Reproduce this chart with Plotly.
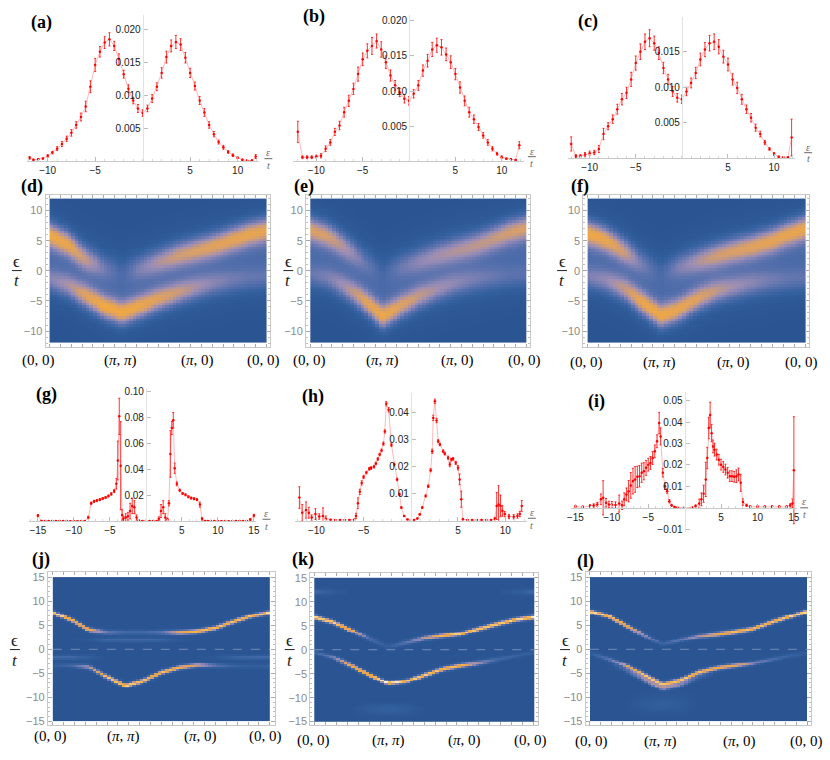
import numpy as np
import plotly.graph_objects as go

W, H = 830, 760

# ---------------------------------------------------------------- top row (a)-(c)
EPS_A = np.r_[-11.9, np.arange(-11.5, 11.51, 0.5), 11.9]
DOS_A = [0.0005, 0.0002, 0.0003, 0.0004, 0.0008, 0.0013, 0.0019, 0.0026, 0.0034, 0.0043,
         0.0055, 0.0067, 0.0083, 0.0113, 0.0146, 0.0166, 0.0180, 0.0185, 0.0175, 0.0155,
         0.0132, 0.0110, 0.0092, 0.0080, 0.0073, 0.0080, 0.0095, 0.0113, 0.0134, 0.0158,
         0.0175, 0.0181, 0.0177, 0.0157, 0.0134, 0.0114, 0.0092, 0.0074, 0.0055, 0.0041,
         0.0029, 0.0021, 0.0014, 0.0009, 0.0005, 0.0002, 0.0001, 0.0001, 0.0007]
ERR_A = [0.0002, 0.0001, 0.0001, 0.0001, 0.0002, 0.0002, 0.0003, 0.0004, 0.0004, 0.0005,
         0.0005, 0.0006, 0.0008, 0.0009, 0.0010, 0.0008, 0.0009, 0.0010, 0.0007, 0.0008,
         0.0006, 0.0006, 0.0005, 0.0006, 0.0005, 0.0005, 0.0006, 0.0006, 0.0008, 0.0009,
         0.0009, 0.0010, 0.0009, 0.0008, 0.0007, 0.0006, 0.0006, 0.0006, 0.0005, 0.0004,
         0.0003, 0.0003, 0.0002, 0.0002, 0.0001, 0.0001, 0.0001, 0.0001, 0.0003]

EPS_BC = np.r_[np.arange(-12.0, 11.51, 0.5), 11.9]
DOS_B = [0.0042, 0.0006, 0.0006, 0.0006, 0.0007, 0.0008, 0.0018, 0.0027, 0.0042, 0.0051,
         0.0070, 0.0086, 0.0103, 0.0124, 0.0145, 0.0157, 0.0164, 0.0171, 0.0159, 0.0141,
         0.0122, 0.0108, 0.0098, 0.0089, 0.0086, 0.0096, 0.0108, 0.0129, 0.0143, 0.0159,
         0.0165, 0.0162, 0.0152, 0.0141, 0.0124, 0.0105, 0.0086, 0.0070, 0.0060, 0.0049,
         0.0037, 0.0027, 0.0018, 0.0011, 0.0006, 0.0004, 0.0003, 0.0002, 0.0023]
ERR_B = [0.0015, 0.0002, 0.0002, 0.0002, 0.0002, 0.0003, 0.0004, 0.0004, 0.0005, 0.0006,
         0.0007, 0.0008, 0.0008, 0.0010, 0.0009, 0.0010, 0.0012, 0.0010, 0.0011, 0.0009,
         0.0008, 0.0007, 0.0006, 0.0006, 0.0006, 0.0006, 0.0007, 0.0008, 0.0009, 0.0010,
         0.0010, 0.0011, 0.0009, 0.0009, 0.0008, 0.0008, 0.0007, 0.0007, 0.0006, 0.0005,
         0.0004, 0.0004, 0.0003, 0.0002, 0.0002, 0.0001, 0.0001, 0.0001, 0.0005]
DOS_C = [0.0020, 0.0003, 0.0003, 0.0005, 0.0007, 0.0008, 0.0013, 0.0034, 0.0045, 0.0055,
         0.0069, 0.0083, 0.0092, 0.0111, 0.0134, 0.0150, 0.0164, 0.0169, 0.0162, 0.0148,
         0.0127, 0.0111, 0.0094, 0.0085, 0.0083, 0.0094, 0.0106, 0.0120, 0.0139, 0.0153,
         0.0162, 0.0164, 0.0157, 0.0143, 0.0132, 0.0111, 0.0099, 0.0083, 0.0069, 0.0057,
         0.0043, 0.0034, 0.0022, 0.0013, 0.0006, 0.0002, 0.0001, 0.0001, 0.0029]
ERR_C = [0.0010, 0.0002, 0.0002, 0.0003, 0.0003, 0.0003, 0.0005, 0.0008, 0.0005, 0.0006,
         0.0007, 0.0008, 0.0008, 0.0010, 0.0010, 0.0011, 0.0011, 0.0012, 0.0010, 0.0009,
         0.0008, 0.0007, 0.0007, 0.0006, 0.0006, 0.0006, 0.0007, 0.0008, 0.0009, 0.0010,
         0.0011, 0.0011, 0.0010, 0.0009, 0.0009, 0.0008, 0.0008, 0.0007, 0.0006, 0.0006,
         0.0005, 0.0004, 0.0003, 0.0002, 0.0002, 0.0001, 0.0001, 0.0001, 0.0026]

# ---------------------------------------------------------------- third row (g)-(i)
EPS_G = [-15, -14.5, -14, -13.5, -13, -12.5, -12, -11.5, -11, -10.5,
         -10, -9.5, -9, -8.5, -8, -7.6, -7.2, -6.8, -6.4, -6.0,
         -5.6, -5.2, -4.8, -4.4, -4.1, -3.9, -3.7, -3.5, -3.3, -3.1,
         -2.8, -2.5, -2.2, -1.9, -1.6, -1.3, -1.0, -0.5, 0, 0.5,
         1.0, 1.5, 1.8, 2.1, 2.4, 2.7, 3.0, 3.2, 3.4, 3.6,
         3.8, 4.0, 4.3, 4.7, 5.1, 5.5, 5.9, 6.3, 6.7, 7.1,
         7.5, 7.8, 8.2, 8.6, 9, 9.5, 10, 10.5, 11, 11.5,
         12, 12.5, 13, 13.5, 14, 14.5, 15]
DOS_G = [0.0045, 0.0004, 0.0003, 0.0003, 0.0003, 0.0003, 0.0003, 0.0003, 0.0003, 0.0002,
         0.0002, 0.0002, 0.0002, 0.0003, 0.0030, 0.0140, 0.0155, 0.0162, 0.0168, 0.0176,
         0.0185, 0.0196, 0.0212, 0.0235, 0.0290, 0.0470, 0.0810, 0.0430, 0.0050, 0.0020,
         0.0030, 0.0040, 0.0080, 0.0120, 0.0110, 0.0030, 0.0008, 0.0004, 0.0003, 0.0003,
         0.0003, 0.0004, 0.0020, 0.0080, 0.0110, 0.0030, 0.0015, 0.0140, 0.0520, 0.0720,
         0.0780, 0.0410, 0.0290, 0.0240, 0.0215, 0.0205, 0.0190, 0.0180, 0.0175, 0.0168,
         0.0130, 0.0020, 0.0004, 0.0003, 0.0003, 0.0003, 0.0002, 0.0002, 0.0002, 0.0002,
         0.0002, 0.0003, 0.0003, 0.0003, 0.0004, 0.0015, 0.0045]
ERR_G = [0.0008, 0.0003, 0.0003, 0.0003, 0.0003, 0.0003, 0.0003, 0.0003, 0.0003, 0.0003,
         0.0003, 0.0003, 0.0003, 0.0003, 0.0010, 0.0010, 0.0008, 0.0008, 0.0008, 0.0008,
         0.0008, 0.0008, 0.0010, 0.0012, 0.0040, 0.0150, 0.0140, 0.0340, 0.0040, 0.0020,
         0.0030, 0.0030, 0.0060, 0.0060, 0.0050, 0.0020, 0.0005, 0.0003, 0.0003, 0.0003,
         0.0003, 0.0003, 0.0015, 0.0050, 0.0050, 0.0030, 0.0010, 0.0020, 0.0180, 0.0050,
         0.0060, 0.0040, 0.0015, 0.0010, 0.0008, 0.0008, 0.0008, 0.0008, 0.0008, 0.0008,
         0.0020, 0.0010, 0.0003, 0.0003, 0.0003, 0.0003, 0.0003, 0.0003, 0.0003, 0.0003,
         0.0003, 0.0003, 0.0003, 0.0003, 0.0003, 0.0008, 0.0010]

EPS_H = [-11.8, -11.5, -11.1, -10.8, -10.5, -10.1, -9.7, -9.3, -9.0, -8.5,
         -8.0, -7.5, -7.0, -6.5, -6.0, -5.8, -5.6, -5.4, -5.2, -5.0,
         -4.7, -4.4, -4.2, -3.9, -3.7, -3.5, -3.3, -3.1, -2.9, -2.75,
         -2.6, -2.35, -2.05, -1.75, -1.45, -1.2, -1.0, -0.7, -0.35, 0,
         0.35, 0.7, 0.95, 1.22, 1.57, 1.85, 2.1, 2.27, 2.38, 2.55,
         2.73, 2.9, 3.08, 3.43, 3.6, 3.95, 4.13, 4.3, 4.48, 4.76,
         5.0, 5.17, 5.35, 5.52, 6.0, 6.5, 7.0, 7.5, 8.0, 8.5,
         8.9, 9.1, 9.3, 9.5, 9.7, 9.95, 10.4, 10.9, 11.3, 11.55,
         11.75]
DOS_H = [0.0086, 0.0030, 0.0040, 0.0030, 0.0012, 0.0025, 0.0016, 0.0018, 0.0008, 0.0004,
         0.0003, 0.0003, 0.0003, 0.0003, 0.0004, 0.0018, 0.0065, 0.0107, 0.0140, 0.0162,
         0.0178, 0.0192, 0.0195, 0.0200, 0.0212, 0.0228, 0.0245, 0.0260, 0.0285, 0.0330,
         0.0432, 0.0410, 0.0280, 0.0208, 0.0153, 0.0098, 0.0049, 0.0018, 0.0005, 0.0002,
         0.0003, 0.0009, 0.0024, 0.0049, 0.0092, 0.0128, 0.0187, 0.0257, 0.0380, 0.0441,
         0.0370, 0.0294, 0.0282, 0.0257, 0.0248, 0.0233, 0.0208, 0.0226, 0.0229, 0.0214,
         0.0196, 0.0153, 0.0080, 0.0006, 0.0003, 0.0003, 0.0003, 0.0003, 0.0003, 0.0003,
         0.0008, 0.0055, 0.0060, 0.0055, 0.0037, 0.0025, 0.0016, 0.0015, 0.0018, 0.0025,
         0.0055]
ERR_H = [0.0040, 0.0030, 0.0030, 0.0020, 0.0010, 0.0020, 0.0010, 0.0030, 0.0010, 0.0002,
         0.0002, 0.0002, 0.0002, 0.0002, 0.0002, 0.0010, 0.0020, 0.0010, 0.0008, 0.0006,
         0.0005, 0.0005, 0.0005, 0.0005, 0.0005, 0.0005, 0.0005, 0.0005, 0.0006, 0.0006,
         0.0008, 0.0008, 0.0006, 0.0005, 0.0005, 0.0004, 0.0003, 0.0002, 0.0002, 0.0002,
         0.0002, 0.0002, 0.0003, 0.0003, 0.0004, 0.0005, 0.0006, 0.0008, 0.0010, 0.0008,
         0.0008, 0.0006, 0.0005, 0.0005, 0.0005, 0.0006, 0.0008, 0.0005, 0.0005, 0.0006,
         0.0008, 0.0020, 0.0030, 0.0003, 0.0002, 0.0002, 0.0002, 0.0002, 0.0002, 0.0002,
         0.0005, 0.0050, 0.0070, 0.0040, 0.0020, 0.0010, 0.0008, 0.0008, 0.0008, 0.0010,
         0.0020]

EPS_I = [-15, -14, -13, -12.5, -12, -11.5, -11.2, -10.8, -10.4, -10.0,
         -9.5, -9.0, -8.6, -8.3, -8.0, -7.7, -7.4, -7.1, -6.8, -6.5,
         -6.2, -5.9, -5.6, -5.3, -5.0, -4.7, -4.4, -4.1, -3.8, -3.5,
         -3.3, -3.0, -2.7, -2.4, -2.1, -1.8, -1.4, -1.0, 0, 1.0,
         1.5, 2.0, 2.3, 2.6, 2.9, 3.1, 3.3, 3.5, 3.7, 3.9,
         4.1, 4.4, 4.7, 5.0, 5.3, 5.6, 5.9, 6.2, 6.5, 6.8,
         7.1, 7.4, 7.7, 8.0, 8.5, 9, 10, 11, 12, 13,
         14, 14.5, 14.8, 15]
DOS_I = [0.0005, 0.0003, 0.0008, 0.0010, 0.0015, 0.0039, 0.0046, 0.0023, 0.0015, 0.0014,
         0.0012, 0.0019, 0.0011, 0.0039, 0.0062, 0.0077, 0.0104, 0.0124, 0.0132, 0.0144,
         0.0147, 0.0163, 0.0170, 0.0186, 0.0201, 0.0209, 0.0232, 0.0263, 0.0310, 0.0395,
         0.0333, 0.0163, 0.0100, 0.0077, 0.0030, 0.0011, 0.0003, 0.0001, 0.0001, 0.0001,
         0.0008, 0.0020, 0.0039, 0.0065, 0.0132, 0.0232, 0.0372, 0.0433, 0.0348, 0.0286,
         0.0271, 0.0248, 0.0224, 0.0201, 0.0190, 0.0178, 0.0163, 0.0147, 0.0147, 0.0144,
         0.0147, 0.0155, 0.0116, 0.0026, 0.0011, 0.0004, 0.0004, 0.0004, 0.0004, 0.0004,
         0.0004, 0.0011, 0.0020, 0.0175]
ERR_I = [0.0005, 0.0005, 0.0006, 0.0008, 0.0010, 0.0025, 0.0080, 0.0020, 0.0015, 0.0015,
         0.0015, 0.0040, 0.0020, 0.0030, 0.0030, 0.0050, 0.0060, 0.0060, 0.0060, 0.0050,
         0.0050, 0.0045, 0.0040, 0.0035, 0.0030, 0.0030, 0.0030, 0.0030, 0.0030, 0.0050,
         0.0040, 0.0020, 0.0015, 0.0010, 0.0008, 0.0005, 0.0003, 0.0002, 0.0002, 0.0002,
         0.0005, 0.0020, 0.0030, 0.0040, 0.0080, 0.0050, 0.0050, 0.0060, 0.0040, 0.0030,
         0.0030, 0.0025, 0.0025, 0.0025, 0.0025, 0.0025, 0.0025, 0.0025, 0.0025, 0.0025,
         0.0030, 0.0030, 0.0040, 0.0015, 0.0006, 0.0005, 0.0005, 0.0005, 0.0005, 0.0005,
         0.0005, 0.0008, 0.0020, 0.0250]

# ---------------------------------------------------------------- spectral maps
# band centres (eps/t) and weights read at 13 equally spaced points along
# the path (0,0) -> (pi,pi) -> (pi,0) -> (0,0)
K_NODES = np.linspace(0.0, 1.0, 13)

D_UPPER = [6.0, 4.5, 2.0, 0.5, -0.3, 0.5, 1.5, 2.5, 3.3, 4.1, 5.1, 6.1, 6.8]
D_UPPER_W = [1.0, 0.95, 0.7, 0.35, 0.1, 0.4, 0.6, 0.75, 0.8, 0.85, 0.9, 0.95, 0.95]
D_LOWER = [-1.5, -2.5, -4.2, -6.0, -7.1, -6.0, -4.8, -3.8, -2.9, -2.2, -1.7, -1.4, -1.2]
D_LOWER_W = [0.45, 0.6, 0.85, 1.0, 1.0, 0.95, 0.85, 0.75, 0.6, 0.45, 0.35, 0.3, 0.3]

E_UPPER = [6.9, 5.8, 3.8, 1.5, -0.3, 0.7, 1.6, 2.55, 3.35, 4.1, 5.2, 6.4, 7.2]
E_UPPER_W = [0.85, 0.8, 0.6, 0.3, 0.08, 0.3, 0.45, 0.55, 0.6, 0.65, 0.7, 0.8, 0.85]
E_LOWER = [-0.8, -1.3, -2.9, -5.0, -7.7, -6.0, -4.4, -3.2, -2.2, -1.6, -1.2, -1.0, -0.8]
E_LOWER_W = [0.3, 0.4, 0.6, 0.85, 1.0, 0.85, 0.7, 0.55, 0.45, 0.35, 0.3, 0.25, 0.25]

F_UPPER = [6.3, 5.2, 3.3, 1.2, -0.3, 0.7, 1.6, 2.45, 3.3, 4.0, 4.9, 6.1, 7.1]
F_UPPER_W = [1.0, 0.95, 0.75, 0.35, 0.1, 0.4, 0.6, 0.75, 0.8, 0.85, 0.9, 0.95, 1.0]
F_LOWER = [-1.1, -1.7, -3.0, -5.3, -7.6, -6.6, -4.8, -3.5, -2.8, -2.2, -1.8, -1.6, -1.4]
F_LOWER_W = [0.4, 0.5, 0.7, 0.95, 1.0, 0.95, 0.85, 0.7, 0.55, 0.45, 0.35, 0.3, 0.3]

J_UPPER = [7.6, 6.1, 4.0, 3.5, 3.5, 3.5, 3.5, 3.5, 3.7, 4.4, 5.7, 6.9, 7.6]
J_UPPER_W = [1.0, 0.9, 0.85, 0.35, 0.2, 0.2, 0.3, 0.75, 0.9, 0.9, 0.9, 0.9, 1.0]
J_MID = [1.9] * 13
J_MID_W = [0, 0, 0.05, 0.2, 0.22, 0.22, 0.18, 0.05, 0, 0, 0, 0, 0]
J_LOWER = [-3.5, -3.5, -3.8, -5.8, -7.6, -6.6, -4.9, -3.9, -3.4, -3.5, -3.6, -3.7, -3.7]
J_LOWER_W = [0.1, 0.2, 0.55, 0.9, 1.0, 0.9, 0.9, 0.85, 0.7, 0.3, 0.15, 0.1, 0.1]
J_SIDE = [-1.7] * 13
J_SIDE_W = [0.2, 0.2, 0.1, 0, 0, 0, 0, 0, 0, 0.05, 0.15, 0.2, 0.2]

K_UPPER = [6.8, 5.8, 4.1, 2.3, 0.6, 1.5, 2.4, 2.9, 3.3, 4.4, 5.4, 6.3, 6.8]
K_UPPER_W = [1.0, 0.95, 0.9, 0.25, 0.1, 0.3, 0.6, 0.9, 0.95, 0.95, 0.95, 0.95, 1.0]
K_LOWER = [-0.5, -1.6, -3.3, -5.2, -7.0, -6.6, -5.3, -4.0, -3.3, -2.8, -2.1, -1.3, -0.5]
K_LOWER_W = [0.15, 0.4, 0.85, 0.95, 1.0, 0.95, 0.95, 0.9, 0.9, 0.5, 0.2, 0.15, 0.1]
K_HIGH = [12.0] * 13
K_HIGH_W = [0.2, 0.08, 0, 0, 0, 0, 0, 0, 0, 0, 0, 0.08, 0.2]
K_DEEP = [-12.5] * 13
K_DEEP_W = [0, 0, 0, 0.08, 0.12, 0.08, 0, 0, 0, 0, 0, 0, 0]

L_UPPER = [7.8, 6.9, 4.85, 2.9, 1.0, 1.9, 2.7, 3.1, 3.6, 4.2, 5.5, 6.7, 7.8]
L_UPPER_W = [1.0, 0.95, 0.9, 0.5, 0.15, 0.35, 0.55, 0.8, 0.9, 0.9, 0.9, 0.95, 1.0]
L_LOWER = [-0.9, -2.0, -3.5, -5.4, -7.3, -6.5, -4.9, -4.0, -3.5, -3.0, -2.2, -1.4, -0.9]
L_LOWER_W = [0.1, 0.3, 0.7, 0.9, 0.9, 0.9, 0.9, 0.85, 0.8, 0.5, 0.25, 0.15, 0.1]
L_SHADOW = [-1.8, -2.9, -4.4, -6.3, -8.2, -7.4, -5.8, -4.9, -4.4, -3.9, -3.1, -2.3, -1.8]
L_SHADOW_W = [0, 0, 0.25, 0.5, 0.6, 0.45, 0.2, 0, 0, 0, 0, 0, 0]
L_DEEP = [-11.5] * 13
L_DEEP_W = [0, 0, 0, 0.07, 0.1, 0.07, 0, 0, 0, 0, 0, 0, 0]

PATH_LABELS = ["(0, 0)", "(<i>π</i>, <i>π</i>)", "(<i>π</i>, 0)", "(0, 0)"]

N_K = 60
SERIF = "Liberation Serif"
SANS = "Liberation Sans"
MAP_SCALE = [[0.0, "#2b5592"], [0.12, "#33609f"], [0.3, "#5a72ae"], [0.5, "#9a8db6"],
             [0.68, "#d89f6a"], [0.82, "#f2a93f"], [0.93, "#fac96f"], [1.0, "#fff8e6"]]


def spectral_map(bands, eps_lo, eps_hi, n_rows):
    k = (np.arange(N_K) + 0.5) / N_K
    step = (eps_hi - eps_lo) / n_rows
    eps = eps_lo + (np.arange(n_rows) + 0.5) * step
    z = np.zeros((n_rows, N_K))
    for centres, weights, width in bands:
        c = np.interp(k, K_NODES, centres)
        a = np.interp(k, K_NODES, weights)
        z += a[None, :] * np.exp(-0.5 * ((eps[:, None] - c[None, :]) / width) ** 2)
    return k, eps, z


def broad_bands(upper, upper_w, lower, lower_w):
    haze = [(u + l) / 2 for u, l in zip(upper, lower)]
    return [(upper, upper_w, 1.5), (lower, lower_w, 1.4), (haze, [0.32] * 13, 3.8)]


fig = go.Figure()
layout = {}
annotations = []
shapes = []


def px_dom_x(a, b):
    return [a / W, b / W]


def px_dom_y(top, bottom):
    return [1 - bottom / H, 1 - top / H]


def axis_names(n):
    s = "" if n == 1 else str(n)
    return "x" + s, "y" + s, "xaxis" + s, "yaxis" + s


def text(x, y, s, size, family=SERIF, color="#000"):
    annotations.append(dict(x=x / W, y=1 - y / H, xref="paper", yref="paper", text=s,
                            showarrow=False, xanchor="center", yanchor="middle",
                            font=dict(family=family, size=size, color=color)))


def fraction(x, y_top, y_bar, y_bot, half, size, color, top_char):
    text(x, y_top, top_char, size, color=color)
    text(x, y_bot, "<i>t</i>", size, color=color)
    shapes.append(dict(type="line", xref="paper", yref="paper", x0=(x - half) / W,
                       x1=(x + half) / W, y0=1 - y_bar / H, y1=1 - y_bar / H,
                       line=dict(color=color, width=1)))


def line_panel(n, eps, dos, err, xr, yr, xdom_px, ydom_px, xticks, yticks, yfmt):
    xa, ya, xkey, ykey = axis_names(n)
    fig.add_trace(go.Scatter(
        x=eps, y=dos, mode="lines+markers", xaxis=xa, yaxis=ya, showlegend=False,
        line=dict(color="rgba(255,80,80,0.4)", width=1),
        marker=dict(color="red", size=2.5),
        error_y=dict(type="data", array=err, color="rgba(255,0,0,0.8)", thickness=1, width=1),
    ))
    xdom = px_dom_x(*xdom_px)
    ydom = px_dom_y(*ydom_px)
    ypos = xdom[0] + (0 - xr[0]) / (xr[1] - xr[0]) * (xdom[1] - xdom[0])
    xpos = ydom[0] + (0 - yr[0]) / (yr[1] - yr[0]) * (ydom[1] - ydom[0])
    common = dict(showgrid=False, zeroline=False, showline=True, linewidth=1,
                  ticks="inside", ticklen=4, tickcolor="#bdbdbd",
                  tickfont=dict(family=SANS, size=10, color="#222"), fixedrange=True)
    layout[xkey] = dict(common, domain=xdom, range=xr, anchor="free", position=xpos,
                        linecolor="#c9c9c9", tickmode="array", tickvals=xticks,
                        ticktext=[str(t).replace("-", "\u2212") for t in xticks],
                        minor=dict(ticks="inside", ticklen=2, tickcolor="#d6d6d6",
                                   tickmode="linear", tick0=0, dtick=1))
    layout[ykey] = dict(common, domain=ydom, range=yr, anchor="free", position=ypos,
                        linecolor="#e2e2e2", tickmode="array", tickvals=yticks,
                        ticktext=[format(t, yfmt).replace("-", "\u2212") for t in yticks],
                        minor=dict(ticks="inside", ticklen=2, tickcolor="#d6d6d6",
                                   tickmode="linear", tick0=0, dtick=yticks[1] - yticks[0]))


def map_panel(n, bands, eps_lim, n_rows, heat_px, frame_px, yr, yticks, zmax, dashed):
    xa, ya, xkey, ykey = axis_names(n)
    k, eps, z = spectral_map(bands, -eps_lim, eps_lim, n_rows)
    fig.add_trace(go.Heatmap(x=k, y=eps, z=z, colorscale=MAP_SCALE, zmin=0, zmax=zmax,
                             showscale=False, xaxis=xa, yaxis=ya, hoverinfo="skip"))
    hx0, hx1 = heat_px
    fx0, fx1, fy0, fy1 = frame_px
    scale = (hx1 - hx0)
    xr = [(fx0 - hx0) / scale, 1 + (fx1 - hx1) / scale]
    frame = dict(showgrid=False, zeroline=False, showline=True, mirror="ticks",
                 linecolor="#c8c8c8", linewidth=1, ticks="inside", tickcolor="#a9a9a9",
                 fixedrange=True)
    layout[xkey] = dict(frame, domain=px_dom_x(fx0, fx1), range=xr, anchor=ya,
                        showticklabels=False, ticklen=3, tickmode="linear", tick0=0,
                        dtick=0.05)
    layout[ykey] = dict(frame, domain=px_dom_y(fy0, fy1), range=yr, anchor=xa,
                        ticklen=4, tickmode="array", tickvals=yticks,
                        ticktext=[str(t).replace("-", "\u2212") for t in yticks],
                        tickfont=dict(family=SANS, size=11, color="#8a8a8a"),
                        minor=dict(ticks="inside", ticklen=2, tickcolor="#c0c0c0",
                                   tickmode="linear", tick0=0, dtick=1))
    if dashed:
        shapes.append(dict(type="line", xref=xa, yref=ya, x0=0, x1=1, y0=0, y1=0,
                           line=dict(color="rgba(175,185,215,0.55)", width=1, dash="dash")))


# ---- top row
line_panel(1, EPS_A, DOS_A, ERR_A, [-12.2, 12.2], [0, 0.0222], (23, 257), (13, 160),
           [-10, -5, 5, 10], [0.005, 0.010, 0.015, 0.020], ".3f")
line_panel(2, EPS_BC, DOS_B, ERR_B, [-12.5, 12.4], [0, 0.0208], (292, 525), (13, 160.3),
           [-10, -5, 5, 10], [0.005, 0.010, 0.015, 0.020], ".3f")
line_panel(3, EPS_BC, DOS_C, ERR_C, [-12.4, 12.3], [0, 0.0199], (569, 799), (15, 157),
           [-10, -5, 5, 10], [0.005, 0.010, 0.015], ".3f")

# ---- second row
hot = 1.5
map_panel(4, broad_bands(D_UPPER, D_UPPER_W, D_LOWER, D_LOWER_W), 12, 54,
          (46, 265), (42, 269, 194, 346.5), [-12.6, 12.6], [-10, -5, 0, 5, 10], hot, False)
map_panel(5, broad_bands(E_UPPER, E_UPPER_W, E_LOWER, E_LOWER_W), 12, 54,
          (309.3, 527.3), (305, 531.5, 194, 346.5), [-12.6, 12.6], [-10, -5, 0, 5, 10], hot, False)
map_panel(6, broad_bands(F_UPPER, F_UPPER_W, F_LOWER, F_LOWER_W), 12, 54,
          (589.3, 809), (585, 813.3, 194, 346.5), [-12.6, 12.6], [-10, -5, 0, 5, 10], hot, False)

# ---- third row
line_panel(7, EPS_G, DOS_G, ERR_G, [-16.2, 15.3], [0, 0.1029], (25.5, 254.5), (388, 522.2),
           [-15, -10, -5, 5, 10, 15], [0.02, 0.04, 0.06, 0.08, 0.10], ".2f")
line_panel(8, EPS_H, DOS_H, ERR_H, [-12.3, 12.3], [0, 0.0471], (293.5, 528), (393.3, 521.6),
           [-10, -5, 5, 10], [0.01, 0.02, 0.03, 0.04], ".2f")
line_panel(9, EPS_I, DOS_I, ERR_I, [-15.6, 15.4], [-0.0116, 0.0542], (572.6, 800.5),
           (391.7, 533.3), [-15, -10, -5, 5, 10, 15], [-0.01, 0.01, 0.02, 0.03, 0.04, 0.05], ".2f")

# ---- bottom row
thin = 0.3
J_BANDS = [(J_UPPER, J_UPPER_W, thin), (J_MID, J_MID_W, thin), (J_LOWER, J_LOWER_W, thin),
           (J_SIDE, J_SIDE_W, thin)]
K_BANDS = [(K_UPPER, K_UPPER_W, thin), (K_LOWER, K_LOWER_W, thin), (K_HIGH, K_HIGH_W, 0.4),
           (K_DEEP, K_DEEP_W, 0.8)]
L_BANDS = [(L_UPPER, L_UPPER_W, thin), (L_LOWER, L_LOWER_W, thin),
           (L_SHADOW, L_SHADOW_W, 0.35), (L_DEEP, L_DEEP_W, 1.2)]
ticks15 = [-15, -10, -5, 0, 5, 10, 15]
map_panel(10, J_BANDS, 15, 75, (49.3, 268.3), (44.3, 273.3, 573.3, 726.7), [-15.7, 16.0],
          ticks15, 1.0, True)
map_panel(11, K_BANDS, 15, 75, (313.3, 535), (309.3, 539, 574, 727.3), [-15.8, 16.0],
          ticks15, 1.0, True)
map_panel(12, L_BANDS, 15, 75, (591.7, 811), (587.3, 815, 573.3, 726.7), [-15.7, 16.0],
          ticks15, 1.0, True)

# ---- panel letters
for letter, (x, y) in zip("abcdefghijkl",
                          [(38, 21), (313, 15), (590, 20), (28, 185), (303, 185), (582, 185),
                           (43, 395), (312, 397), (598, 402), (37, 560), (302, 560), (587, 562)]):
    text(x, y, "<b>(%s)</b>" % letter, 18)

# ---- path labels under the maps
for xs, y in [((35, 118, 195, 262), 360), ((308, 382, 458, 526), 360),
              ((588, 662, 737, 805), 362), ((47, 121, 198, 264), 738),
              ((313, 388, 465, 532), 742), ((593, 663, 743, 810), 743)]:
    for x, lab in zip(xs, PATH_LABELS):
        text(x, y, lab, 15)

# ---- eps/t axis labels
for x, yt, yb, ybt in [(267, 151, 157.5, 164), (533, 150, 155.5, 162), (812, 146, 151.5, 157),
                       (265, 514, 520, 527), (533, 513, 519, 526), (808, 502, 508.5, 515)]:
    fraction(x, yt, yb, ybt, 4, 10, "#666", "<i>ε</i>")
for x, yt, yb, ybt in [(13, 261, 270, 280), (287, 261, 270, 280), (563.5, 261, 270, 280),
                       (11, 642, 651, 662), (288.5, 642, 651, 662), (566.5, 642, 651, 662)]:
    fraction(x, yt, yb, ybt, 5, 17, "#222", "ϵ")

fig.update_layout(**layout)
fig.update_layout(width=W, height=H, margin=dict(l=0, r=0, t=0, b=0),
                  paper_bgcolor="white", plot_bgcolor="white",
                  annotations=annotations, shapes=shapes, showlegend=False)

# the page's default body margin would push the figure 8px right and down
fig.write_html("out.html", config={"displayModeBar": False},
               post_script="document.body.style.margin = '0';")
